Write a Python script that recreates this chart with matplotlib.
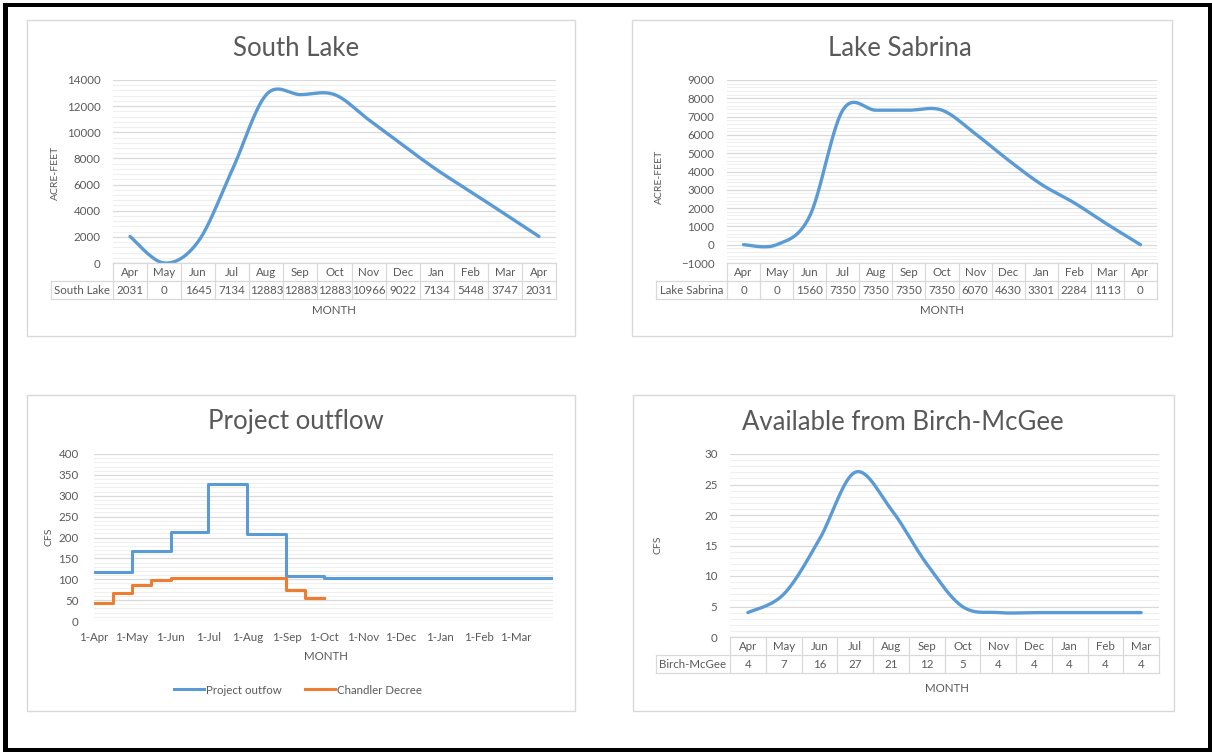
import datetime as dt
import matplotlib
matplotlib.use("Agg")
import matplotlib.pyplot as plt
import matplotlib.dates as mdates
import numpy as np
from matplotlib.patches import Rectangle
from matplotlib.ticker import MultipleLocator

plt.rcParams['font.family'] = ['Lato', 'DejaVu Sans']

# storage, acre-feet
lake_months = ["Apr", "May", "Jun", "Jul", "Aug", "Sep", "Oct", "Nov", "Dec", "Jan", "Feb", "Mar", "Apr"]
south_lake = [2031, 0, 1645, 7134, 12883, 12883, 12883, 10966, 9022, 7134, 5448, 3747, 2031]
lake_sabrina = [0, 0, 1560, 7350, 7350, 7350, 7350, 6070, 4630, 3301, 2284, 1113, 0]

# Birch-McGee, cfs
birch_months = ["Apr", "May", "Jun", "Jul", "Aug", "Sep", "Oct", "Nov", "Dec", "Jan", "Feb", "Mar"]
birch_mcgee = [4, 7, 16, 27, 21, 12, 5, 4, 4, 4, 4, 4]

# project outflow steps (start date, cfs)
outflow_dates = ["2015-04-01", "2015-05-01", "2015-06-01", "2015-07-01", "2015-08-01",
                 "2015-09-01", "2015-10-01", "2016-03-31"]
outflow_cfs = [117, 167, 214, 327, 209, 107, 103, 103]
chandler_dates = ["2015-04-01", "2015-04-16", "2015-05-01", "2015-05-16", "2015-06-01",
                  "2015-09-01", "2015-09-16", "2015-10-01"]
chandler_cfs = [43, 68, 87, 98, 103, 75, 56, 56]

W, H = 1212, 752
BLUE = "#5B9BD5"
ORANGE = "#ED7D31"
TXT = "#595959"
GRID = "#D9D9D9"
MINOR = "#EFEFEF"
FS = 8.3
TITLE_FS = 18.5

fig = plt.figure(figsize=(W / 100, H / 100), dpi=100)


def fx(px):
    return px / W


def fy(py):
    return 1 - py / H


def add_ax(x0, y0, x1, y1):
    return fig.add_axes([fx(x0), fy(y1), (x1 - x0) / W, (y1 - y0) / H])


def panel(x0, y0, x1, y1):
    fig.add_artist(Rectangle((fx(x0), fy(y1)), (x1 - x0) / W, (y1 - y0) / H,
                             transform=fig.transFigure, fill=False,
                             edgecolor=GRID, lw=1))


def smooth(y, n=30):
    # excel-style smoothed line: bezier with control points at 1/6 of neighbour chord
    y = np.asarray(y, float)
    x = np.arange(len(y), dtype=float)
    p = np.column_stack([x, y])
    pts = []
    t = np.linspace(0, 1, n)[:, None]
    for i in range(len(p) - 1):
        pm = p[max(i - 1, 0)]
        pn = p[min(i + 2, len(p) - 1)]
        c1 = p[i] + (p[i + 1] - pm) / 6
        c2 = p[i + 1] - (pn - p[i]) / 6
        seg = ((1 - t) ** 3) * p[i] + 3 * ((1 - t) ** 2) * t * c1 + 3 * (1 - t) * t ** 2 * c2 + t ** 3 * p[i + 1]
        pts.append(seg if i == 0 else seg[1:])
    pts = np.vstack(pts)
    return pts[:, 0], pts[:, 1]


def style_axes(ax, ymin, ymax, major, minor):
    ax.set_ylim(ymin, ymax)
    ax.yaxis.set_major_locator(MultipleLocator(major))
    ax.yaxis.set_minor_locator(MultipleLocator(minor))
    ax.grid(which="major", axis="y", color=GRID, lw=0.9)
    ax.grid(which="minor", axis="y", color=MINOR, lw=0.8)
    ax.set_axisbelow(True)
    for s in ax.spines.values():
        s.set_visible(False)
    ax.tick_params(axis="y", which="both", length=0, labelsize=FS, colors=TXT, pad=9)
    ax.tick_params(axis="x", which="both", length=0)


def data_table(ax, cats, vals, label, label_px, ax_px, row_px):
    # two-row data table hanging under the category axis
    x0, x1, h = ax_px
    n = len(cats)
    r = row_px / h
    tr = ax.get_xaxis_transform()
    left = -0.5 - (x0 - label_px) / (x1 - x0) * n
    kw = dict(transform=tr, clip_on=False, color=GRID, lw=0.9)
    ax.plot([-0.5, n - 0.5], [0, 0], **kw)
    ax.plot([left, n - 0.5], [-r, -r], **kw)
    ax.plot([left, n - 0.5], [-2 * r, -2 * r], **kw)
    ax.plot([left, left], [-r, -2 * r], **kw)
    for k in range(n + 1):
        ax.plot([k - 0.5, k - 0.5], [0, -2 * r], **kw)
    for k, (c, v) in enumerate(zip(cats, vals)):
        ax.text(k, -0.5 * r, c, transform=tr, ha="center", va="center", fontsize=FS, color=TXT)
        ax.text(k, -1.5 * r, str(v), transform=tr, ha="center", va="center", fontsize=FS, color=TXT)
    ax.text((left - 0.5) / 2, -1.5 * r, label, transform=tr, ha="center", va="center",
            fontsize=FS, color=TXT)


def fig_text(x, y, s, **kw):
    fig.text(fx(x), fy(y), s, ha="center", va="center", color=TXT, **kw)


# outer frame
for rx, ry, rw, rh in [(3, 3, 5, 749), (3, 3, 1209, 4), (1208, 3, 4, 749), (3, 748, 1209, 4)]:
    fig.add_artist(Rectangle((fx(rx), fy(ry + rh)), rw / W, rh / H, transform=fig.transFigure,
                             color="black", lw=0))

# South Lake
panel(27, 20, 575, 336)
ax1 = add_ax(113, 80, 556, 263)
xs, ys = smooth(south_lake)
ax1.plot(xs, ys, color=BLUE, lw=2.4, solid_capstyle="round")
ax1.set_xlim(-0.5, len(south_lake) - 0.5)
ax1.set_xticks([])
style_axes(ax1, 0, 14000, 2000, 400)
data_table(ax1, lake_months, south_lake, "South Lake", 51, (113, 556, 183), 18)
fig_text(296, 48, "South Lake", fontsize=TITLE_FS)
fig_text(55, 173, "ACRE-FEET", fontsize=7.5, rotation=90)
fig_text(334, 311, "MONTH", fontsize=FS)

# Lake Sabrina
panel(632, 20, 1172, 336)
ax2 = add_ax(727, 80, 1157, 263)
xs, ys = smooth(lake_sabrina)
ax2.plot(xs, ys, color=BLUE, lw=2.4, solid_capstyle="round")
ax2.set_xlim(-0.5, len(lake_sabrina) - 0.5)
ax2.set_xticks([])
style_axes(ax2, -1000, 9000, 1000, 200)
data_table(ax2, lake_months, lake_sabrina, "Lake Sabrina", 656, (727, 1157, 183), 18)
fig_text(900, 48, "Lake Sabrina", fontsize=TITLE_FS)
fig_text(659, 177, "ACRE-FEET", fontsize=7.5, rotation=90)
fig_text(942, 311, "MONTH", fontsize=FS)

# Project outflow
panel(27, 395, 575, 711)
ax3 = add_ax(94, 454, 553, 621)
od = [dt.datetime.fromisoformat(d) for d in outflow_dates]
cd = [dt.datetime.fromisoformat(d) for d in chandler_dates]
ax3.plot(od, outflow_cfs, drawstyle="steps-post", color=BLUE, lw=2.2, label="Project outfow")
ax3.plot(cd, chandler_cfs, drawstyle="steps-post", color=ORANGE, lw=2.2, label="Chandler Decree")
ax3.set_xlim(dt.datetime(2015, 4, 1), dt.datetime(2016, 3, 31))
ax3.xaxis.set_major_locator(mdates.MonthLocator())
ax3.xaxis.set_major_formatter(mdates.DateFormatter("1-%b"))
style_axes(ax3, 0, 400, 50, 10)
ax3.tick_params(axis="x", labelsize=FS, colors=TXT, pad=8)
ax3.tick_params(axis="y", pad=11)
fig_text(296, 422, "Project outflow", fontsize=TITLE_FS)
fig_text(49, 537, "CFS", fontsize=7.5, rotation=90)
fig_text(326, 656, "MONTH", fontsize=FS)
leg = ax3.legend(loc="center", bbox_to_anchor=(fx(298), fy(690)), bbox_transform=fig.transFigure,
                 ncol=2, frameon=False, fontsize=FS, handlelength=2.6, handletextpad=0.2,
                 columnspacing=2.0)
for t in leg.get_texts():
    t.set_color(TXT)

# Birch-McGee
panel(633, 395, 1174, 711)
ax4 = add_ax(730, 454, 1159, 637)
xs, ys = smooth(birch_mcgee)
ax4.plot(xs, ys, color=BLUE, lw=2.4, solid_capstyle="round")
ax4.set_xlim(-0.5, len(birch_mcgee) - 0.5)
ax4.set_xticks([])
style_axes(ax4, 0, 30, 5, 1)
data_table(ax4, birch_months, birch_mcgee, "Birch-McGee", 656, (730, 1159, 183), 18)
fig_text(903, 422, "Available from Birch-McGee", fontsize=TITLE_FS)
fig_text(658, 545, "CFS", fontsize=7.5, rotation=90)
fig_text(947, 688, "MONTH", fontsize=FS)

fig.savefig("out.png", dpi=100, facecolor="white")
